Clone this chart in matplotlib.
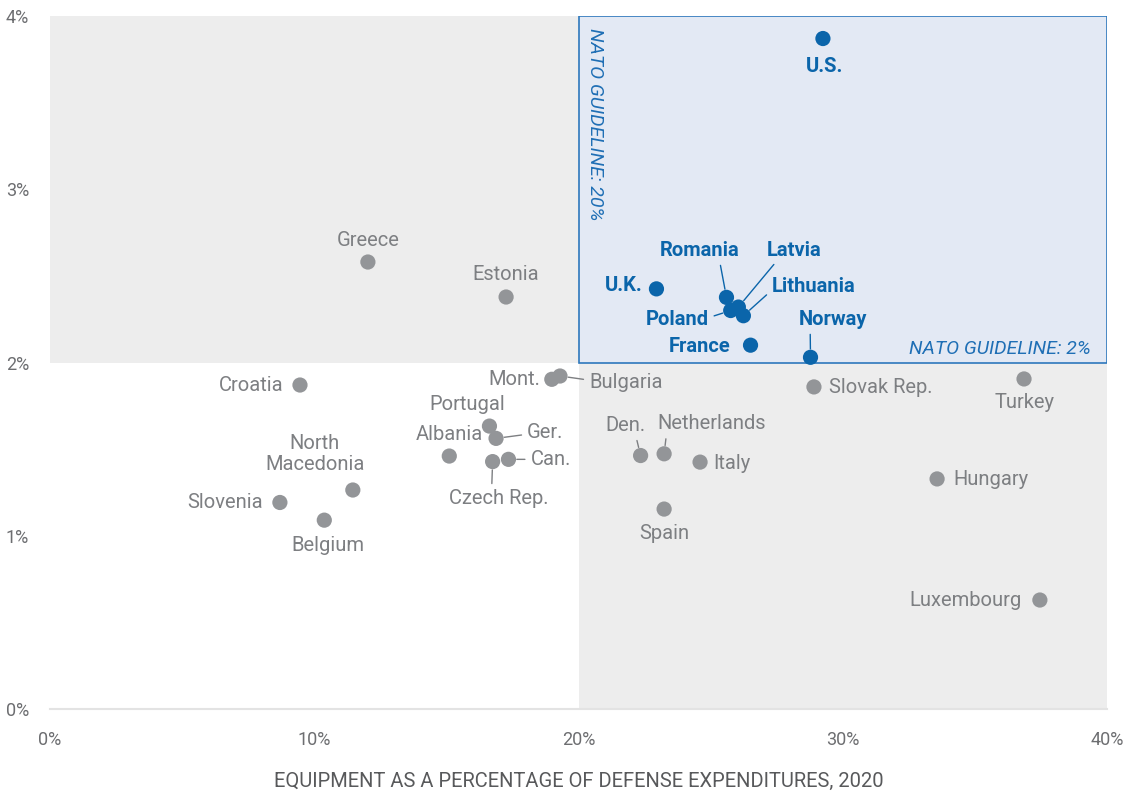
import matplotlib.pyplot as plt
from matplotlib.patches import Rectangle

plt.rcParams['font.family'] = ['Roboto', 'DejaVu Sans']

# countries meeting both guidelines (blue)
blue_names = ["U.S.", "U.K.", "Romania", "Latvia", "Poland", "Lithuania", "France", "Norway"]
blue_x = [29.25, 22.95, 25.60, 26.05, 25.76, 26.24, 26.51, 28.78]
blue_y = [3.87, 2.425, 2.376, 2.32, 2.30, 2.27, 2.10, 2.03]

# all other countries (grey)
grey_names = ["Greece", "Estonia", "Croatia", "Mont.", "Bulgaria", "Portugal", "Ger.", "Can.",
              "Czech Rep.", "Albania", "North\nMacedonia", "Slovenia", "Belgium", "Slovak Rep.",
              "Turkey", "Den.", "Netherlands", "Italy", "Spain", "Hungary", "Luxembourg"]
grey_x = [12.03, 17.26, 9.46, 18.99, 19.30, 16.63, 16.88, 17.35, 16.75, 15.11, 11.46, 8.70,
          10.38, 28.91, 36.86, 22.35, 23.24, 24.60, 23.24, 33.57, 37.46]
grey_y = [2.58, 2.378, 1.87, 1.903, 1.922, 1.633, 1.562, 1.441, 1.428, 1.46, 1.264, 1.192,
          1.09, 1.859, 1.905, 1.463, 1.473, 1.425, 1.154, 1.328, 0.629]

x_ticks = [0, 10, 20, 30, 40]
y_ticks = [0, 1, 2, 3, 4]

# label placement: (dx px, dy px, ha, line relpos or None)
blue_lbl = {
    "U.S.": (2, -28, 'center', None),
    "U.K.": (-14, 3, 'right', None),
    "Romania": (-27, 47, 'center', (0.75, 0)),
    "Latvia": (56, 57, 'center', (0.2, 0)),
    "Poland": (-22, -9, 'right', (1, 0.6)),
    "Lithuania": (28, 29, 'left', (0, 0.3)),
    "France": (-20, -1, 'right', None),
    "Norway": (-12, 38, 'left', (0.17, 0)),
}
grey_lbl = {
    "Greece": (0, 22, 'center', None),
    "Estonia": (0, 23, 'center', None),
    "Croatia": (-16, 0, 'right', None),
    "Mont.": (-12, 0, 'right', None),
    "Bulgaria": (29, -6, 'left', (0, 0.6)),
    "Portugal": (-22, 22, 'center', None),
    "Ger.": (31, 6, 'left', (0, 0.4)),
    "Can.": (22, 0, 'left', (0, 0.5)),
    "Czech Rep.": (6, -37, 'center', (0.43, 1)),
    "Albania": (0, 22, 'center', None),
    "North\nMacedonia": (-38, 36, 'center', None),
    "Slovenia": (-17, 0, 'right', None),
    "Belgium": (4, -25, 'center', None),
    "Slovak Rep.": (15, -1, 'left', None),
    "Turkey": (1, -24, 'center', None),
    "Den.": (-15, 30, 'center', (0.75, 0)),
    "Netherlands": (48, 30, 'center', (0.08, 0)),
    "Italy": (13, -1, 'left', None),
    "Spain": (0, -24, 'center', None),
    "Hungary": (16, -1, 'left', None),
    "Luxembourg": (-18, 0, 'right', None),
}

BLUE = '#0B65AA'
GREY_DOT = '#939598'
GREY_TXT = '#7d7f82'
TICK = '#6d6e71'

fig = plt.figure(figsize=(11.36, 7.96), dpi=100)
ax = fig.add_axes([50 / 1136, 87 / 796, 1057 / 1136, 693 / 796])
ax.set_xlim(0, 40)
ax.set_ylim(0, 4)

ax.add_patch(Rectangle((0, 2), 20, 2, facecolor='#ededed', edgecolor='none', zorder=0))
ax.add_patch(Rectangle((20, 0), 20, 2, facecolor='#ededed', edgecolor='none', zorder=0))
ax.add_patch(Rectangle((20, 2), 20, 2, facecolor='#e3e9f4', edgecolor='#2e78bc', lw=1.2, zorder=0.5))

ax.text(20.3, 3.93, "NATO GUIDELINE: 20%", rotation=-90, ha='left', va='top',
        style='italic', color='#1f6fb5', fontsize=14)
ax.text(39.4, 2.025, "NATO GUIDELINE: 2%", ha='right', va='bottom',
        style='italic', color='#1f6fb5', fontsize=14)

ax.scatter(grey_x, grey_y, s=120, color=GREY_DOT, edgecolors='none', zorder=3)
ax.scatter(blue_x, blue_y, s=120, color=BLUE, edgecolors='none', zorder=4)


def label(names, xs, ys, spec, color, weight):
    for n, x, y in zip(names, xs, ys):
        dx, dy, ha, rel = spec[n]
        ap = None
        if rel is not None:
            ap = dict(arrowstyle='-', color=color, lw=1, relpos=rel, shrinkA=2, shrinkB=6)
        ax.annotate(n, (x, y), xytext=(dx, dy), textcoords='offset pixels', ha=ha, va='center',
                    color=color, fontsize=14.5, fontweight=weight, arrowprops=ap,
                    multialignment='center', linespacing=1.15, zorder=5)


label(grey_names, grey_x, grey_y, grey_lbl, GREY_TXT, 'normal')
label(blue_names, blue_x, blue_y, blue_lbl, BLUE, 'bold')

ax.set_xticks(x_ticks)
ax.set_xticklabels([f"{t}%" for t in x_ticks])
ax.set_yticks(y_ticks)
ax.set_yticklabels([f"{t}%" for t in y_ticks])
ax.tick_params(length=0, labelsize=13, labelcolor=TICK)
ax.tick_params(axis='x', pad=16)
ax.tick_params(axis='y', pad=15)
for s in ['top', 'right', 'left']:
    ax.spines[s].set_visible(False)
ax.spines['bottom'].set_color('#e3e3e3')
ax.spines['bottom'].set_linewidth(1.5)

ax.set_xlabel("EQUIPMENT AS A PERCENTAGE OF DEFENSE EXPENDITURES, 2020",
              fontsize=14.5, color='#58595b', labelpad=16)

fig.savefig('out.png', dpi=100)
